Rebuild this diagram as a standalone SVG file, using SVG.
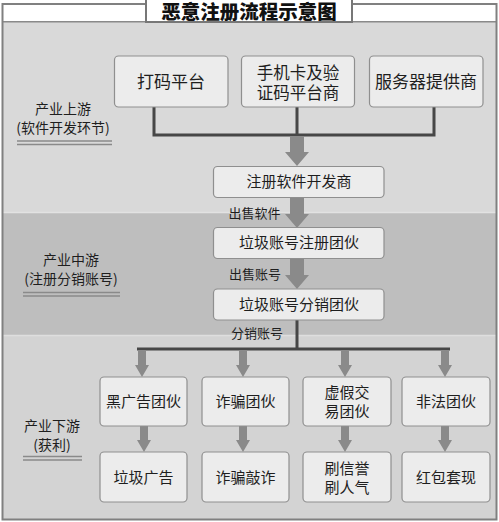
<svg xmlns="http://www.w3.org/2000/svg" width="499" height="522" viewBox="0 0 499 522">
<defs>
<style>
text{font-family:"Noto Sans CJK SC","Noto Sans",sans-serif;fill:#1e1e1e;text-anchor:middle}
.box{fill:#ececec;stroke:#8f8f8f;stroke-width:1.2}
.t17{font-size:17px}
.t15{font-size:15px}
.t13{font-size:13px}
.t14{font-size:14px}
.dark{fill:none;stroke:#474747;stroke-width:3}
.arr{fill:#8a8a8a}
.dbl{stroke:#8a8a8a;stroke-width:1.6}
</style>
</defs>
<rect x="0" y="0" width="499" height="522" fill="#ffffff"/>
<!-- bands -->
<rect x="3" y="22" width="493" height="190" fill="#d9d9d9"/>
<rect x="3" y="212" width="493" height="123" fill="#bebebe"/>
<rect x="3" y="335" width="493" height="184" fill="#d3d3d3"/>
<line x1="3" y1="212.5" x2="496" y2="212.5" stroke="#e2e2e2" stroke-width="1.5"/>
<line x1="3" y1="335.5" x2="496" y2="335.5" stroke="#dedede" stroke-width="1.5"/>
<!-- top white band -->
<rect x="3" y="4" width="493" height="18" fill="#ffffff"/>
<line x1="3" y1="21.7" x2="496" y2="21.7" stroke="#8a8a8a" stroke-width="1.5"/>
<!-- outer frame -->
<rect x="2.5" y="4" width="494" height="515.5" fill="none" stroke="#808080" stroke-width="2"/>
<!-- title -->
<g id="title">
<rect x="146" y="-2" width="206" height="24" fill="#ffffff" stroke="#777777" stroke-width="2"/>
<text x="249" y="18.5" style="font-size:19.5px;font-weight:900;fill:#111">恶意注册流程示意图</text>
</g>
<!-- stage labels -->
<g id="stage-up">
<text class="t14" x="63" y="114">产业上游</text>
<text class="t14" x="63" y="133">(软件开发环节)</text>
<line class="dbl" x1="17" y1="141" x2="112" y2="141"/>
<line class="dbl" x1="17" y1="144.5" x2="112" y2="144.5"/>
</g>
<g id="stage-mid">
<text class="t14" x="71" y="265">产业中游</text>
<text class="t14" x="71" y="284">(注册分销账号)</text>
<line class="dbl" x1="23" y1="292.5" x2="120" y2="292.5"/>
<line class="dbl" x1="23" y1="296" x2="120" y2="296"/>
</g>
<g id="stage-down">
<text class="t14" x="52" y="431">产业下游</text>
<text class="t14" x="52" y="450">(获利)</text>
<line class="dbl" x1="23" y1="456.5" x2="82" y2="456.5"/>
<line class="dbl" x1="23" y1="460" x2="82" y2="460"/>
</g>
<!-- connectors -->
<g id="connectors">
<path class="dark" d="M154,107 V135 H434 V107 M297,107 V135"/>
<path class="arr" d="M290,136 H304 V152 H309 L297,166 L285,152 H290 Z"/>
<path class="arr" d="M290,197 H304 V214 H309 L297,228 L285,214 H290 Z"/>
<path class="arr" d="M290,258 H304 V275 H309 L297,289 L285,275 H290 Z"/>
<path class="dark" d="M297,320 V349 M137,349 H450"/>
<path class="arr" d="M138,350.5 H146 V365 H149 L142,377 L135,365 H138 Z"/>
<path class="arr" d="M239,350.5 H247 V365 H250 L243,377 L236,365 H239 Z"/>
<path class="arr" d="M341,350.5 H349 V365 H352 L345,377 L338,365 H341 Z"/>
<path class="arr" d="M441,350.5 H449 V365 H452 L445,377 L438,365 H441 Z"/>
<path class="arr" d="M140,426 H148 V440 H151 L144,452 L137,440 H140 Z"/>
<path class="arr" d="M239,426 H247 V440 H250 L243,452 L236,440 H239 Z"/>
<path class="arr" d="M341,426 H349 V440 H352 L345,452 L338,440 H341 Z"/>
<path class="arr" d="M441,426 H449 V440 H452 L445,452 L438,440 H441 Z"/>
<text class="t13" x="254.5" y="218">出售软件</text>
<text class="t13" x="255" y="279">出售账号</text>
<text class="t13" x="257" y="338">分销账号</text>
</g>
<!-- top nodes -->
<g id="n-dama"><rect class="box" x="114.5" y="56" width="113.5" height="51" rx="4"/><text class="t17" x="171" y="88">打码平台</text></g>
<g id="n-sim"><rect class="box" x="241.5" y="56" width="113" height="51" rx="4"/><text x="298" y="79" style="font-size:16.5px">手机卡及验</text><text x="298" y="99" style="font-size:16.5px">证码平台商</text></g>
<g id="n-server"><rect class="box" x="369.5" y="56" width="113.5" height="51" rx="4"/><text class="t17" x="426" y="88">服务器提供商</text></g>
<!-- middle chain -->
<g id="n-dev"><rect class="box" x="213.5" y="166.5" width="170.5" height="31" rx="4"/><text class="t15" x="299" y="187">注册软件开发商</text></g>
<g id="n-reg"><rect class="box" x="213.5" y="227.5" width="170.5" height="31" rx="4"/><text class="t15" x="299" y="248">垃圾账号注册团伙</text></g>
<g id="n-dist"><rect class="box" x="213.5" y="289" width="170.5" height="31" rx="4"/><text class="t15" x="299" y="310">垃圾账号分销团伙</text></g>
<!-- downstream groups -->
<g id="n-blackad"><rect class="box" x="100" y="377" width="87" height="49" rx="4"/><text class="t15" x="143.5" y="407">黑广告团伙</text></g>
<g id="n-fraud"><rect class="box" x="202" y="377" width="87" height="49" rx="4"/><text class="t15" x="245.5" y="407">诈骗团伙</text></g>
<g id="n-fake"><rect class="box" x="303" y="377" width="88" height="49" rx="4"/><text class="t15" x="347" y="397.5">虚假交</text><text class="t15" x="347" y="416.5">易团伙</text></g>
<g id="n-illegal"><rect class="box" x="402" y="377" width="88" height="49" rx="4"/><text class="t15" x="446" y="407">非法团伙</text></g>
<!-- outcomes -->
<g id="n-spam"><rect class="box" x="100" y="452" width="87" height="50" rx="4"/><text class="t15" x="143.5" y="483">垃圾广告</text></g>
<g id="n-scam"><rect class="box" x="202" y="452" width="87" height="50" rx="4"/><text class="t15" x="245.5" y="483">诈骗敲诈</text></g>
<g id="n-boost"><rect class="box" x="303" y="452" width="88" height="50" rx="4"/><text class="t15" x="347" y="473.5">刷信誉</text><text class="t15" x="347" y="492.5">刷人气</text></g>
<g id="n-redpack"><rect class="box" x="402" y="452" width="88" height="50" rx="4"/><text class="t15" x="446" y="483">红包套现</text></g>
</svg>
